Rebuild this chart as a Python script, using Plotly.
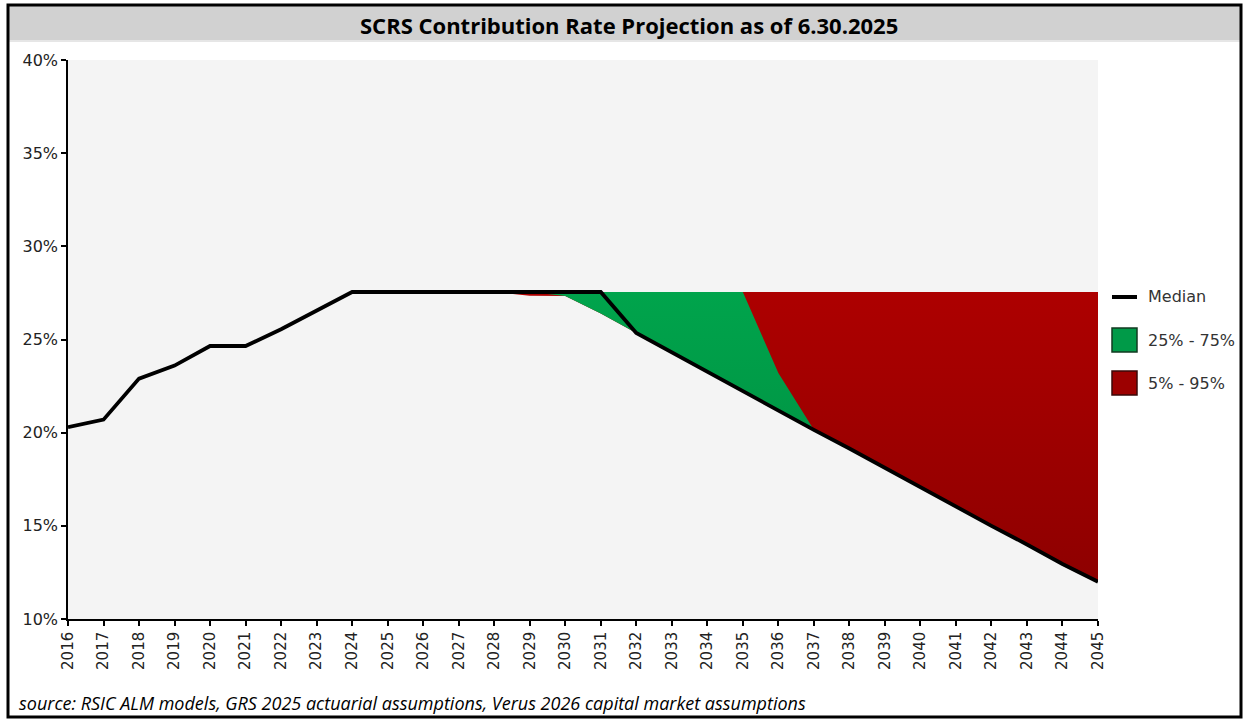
import plotly.graph_objects as go

years = list(range(2016, 2046))
median = [20.3, 20.7, 22.9, 23.6, 24.65, 24.65, 25.55, 26.55, 27.55, 27.55,
          27.55, 27.55, 27.55, 27.55, 27.55, 27.55, 25.35, 24.3, 23.25, 22.2,
          21.15, 20.15, 19.15, 18.1, 17.05, 16.05, 15.0, 14.0, 12.95, 12.0]
p5 = [20.3, 20.7, 22.9, 23.6, 24.65, 24.65, 25.55, 26.55, 27.55, 27.55,
      27.55, 27.55, 27.55, 27.35, 27.34, 26.4, 25.35, 24.3, 23.25, 22.2,
      21.15, 20.15, 19.15, 18.1, 17.05, 16.05, 15.0, 14.0, 12.95, 12.0]
p95 = [20.3, 20.7, 22.9, 23.6, 24.65, 24.65, 25.55, 26.55, 27.55, 27.55,
       27.55, 27.55, 27.55, 27.55, 27.55, 27.55, 27.55, 27.55, 27.55, 27.55,
       27.55, 27.55, 27.55, 27.55, 27.55, 27.55, 27.55, 27.55, 27.55, 27.55]
p25 = [20.3, 20.7, 22.9, 23.6, 24.65, 24.65, 25.55, 26.55, 27.55, 27.55,
       27.55, 27.55, 27.55, 27.55, 27.34, 26.4, 25.35, 24.3, 23.25, 22.2,
       21.15, 20.15, 19.15, 18.1, 17.05, 16.05, 15.0, 14.0, 12.95, 12.0]
p75 = [20.3, 20.7, 22.9, 23.6, 24.65, 24.65, 25.55, 26.55, 27.55, 27.55,
       27.55, 27.55, 27.55, 27.55, 27.55, 27.55, 27.55, 27.55, 27.55, 27.55,
       23.2, 20.15, 19.15, 18.1, 17.05, 16.05, 15.0, 14.0, 12.95, 12.0]

series_names = ["Median", "25% - 75%", "5% - 95%"]
title_text = "SCRS Contribution Rate Projection as of 6.30.2025"
source_text = ("source: RSIC ALM models, GRS 2025 actuarial assumptions, "
               "Verus 2026 capital market assumptions")

W, H = 1247, 719
L, R, T, B = 68, 1098, 60, 619


def px(x):
    return (x - L) / (R - L)


def py(y):
    return (B - y) / (B - T)


RED_SCALE = [[0, "#8e0000"], [1, "#ad0000"]]
GREEN_SCALE = [[0, "#008a3e"], [1, "#00a44c"]]

fig = go.Figure()
fig.add_trace(go.Scatter(x=years, y=p5, mode="lines", line=dict(width=0),
                         showlegend=False, hoverinfo="skip"))
fig.add_trace(go.Scatter(x=years, y=p95, mode="lines", line=dict(width=0),
                         fill="tonexty", name=series_names[2],
                         fillgradient=dict(type="vertical", colorscale=RED_SCALE),
                         showlegend=False, hoverinfo="skip"))
fig.add_trace(go.Scatter(x=years, y=p25, mode="lines", line=dict(width=0),
                         showlegend=False, hoverinfo="skip"))
fig.add_trace(go.Scatter(x=years, y=p75, mode="lines", line=dict(width=0),
                         fill="tonexty", name=series_names[1],
                         fillgradient=dict(type="vertical", colorscale=GREEN_SCALE),
                         showlegend=False, hoverinfo="skip"))
fig.add_trace(go.Scatter(x=years, y=median, mode="lines", name=series_names[0],
                         line=dict(color="black", width=3.8),
                         showlegend=False))

shapes = [
    dict(type="rect", xref="paper", yref="paper",
         x0=px(9), x1=px(1240), y0=py(6), y1=py(40),
         fillcolor="#d1d1d1", line=dict(width=0), layer="below"),
    dict(type="line", xref="paper", yref="paper",
         x0=px(9), x1=px(1240), y0=py(41), y1=py(41),
         line=dict(color="#e6e6e6", width=2)),
    dict(type="rect", xref="paper", yref="paper",
         x0=px(8), x1=px(1241), y0=py(5), y1=py(717),
         line=dict(color="black", width=3)),
    # legend keys
    dict(type="line", xref="paper", yref="paper",
         x0=px(1112), x1=px(1137), y0=py(297), y1=py(297),
         line=dict(color="black", width=4)),
    dict(type="rect", xref="paper", yref="paper",
         x0=px(1112), x1=px(1137), y0=py(328), y1=py(352),
         fillcolor="#009a48", line=dict(color="#123a20", width=1.5)),
    dict(type="rect", xref="paper", yref="paper",
         x0=px(1112), x1=px(1137), y0=py(371), y1=py(395),
         fillcolor="#9c0000", line=dict(color="#3a0808", width=1.5)),
]

annotations = [
    dict(text="<b>" + title_text + "</b>", xref="paper", yref="paper",
         x=px(629), y=py(25), xanchor="center", yanchor="middle",
         showarrow=False, font=dict(family="Open Sans", size=22, color="black")),
    dict(text="<i>" + source_text + "</i>", xref="paper", yref="paper",
         x=px(17), y=py(703), xanchor="left", yanchor="middle",
         showarrow=False, font=dict(family="Open Sans", size=18, color="black")),
]
for name, yc in zip(series_names, [296, 340, 383]):
    annotations.append(dict(text=name, xref="paper", yref="paper",
                            x=px(1146), y=py(yc), xanchor="left", yanchor="middle",
                            showarrow=False,
                            font=dict(family="DejaVu Sans", size=16, color="#333")))

fig.update_layout(
    width=W, height=H,
    margin=dict(l=L, r=W - R, t=T, b=H - B),
    paper_bgcolor="white", plot_bgcolor="#f4f4f4",
    shapes=shapes, annotations=annotations,
    showlegend=False,
    xaxis=dict(range=[2016, 2045], tickmode="array", tickvals=years,
               ticktext=[str(y) for y in years], tickangle=-90,
               showline=True, linecolor="black", linewidth=1.5,
               ticks="outside", ticklen=5, tickcolor="black", tickwidth=1.5,
               showgrid=False, zeroline=False,
               tickfont=dict(family="DejaVu Sans", size=15, color="#222")),
    yaxis=dict(range=[10, 40], dtick=5, ticksuffix="%",
               showline=True, linecolor="black", linewidth=1.5,
               ticks="outside", ticklen=5, tickcolor="black", tickwidth=1.5,
               showgrid=False, zeroline=False,
               tickfont=dict(family="DejaVu Sans", size=16, color="#222")),
)

fig.write_html("out.html", config={"displayModeBar": False},
               post_script="document.body.style.margin='0';")
